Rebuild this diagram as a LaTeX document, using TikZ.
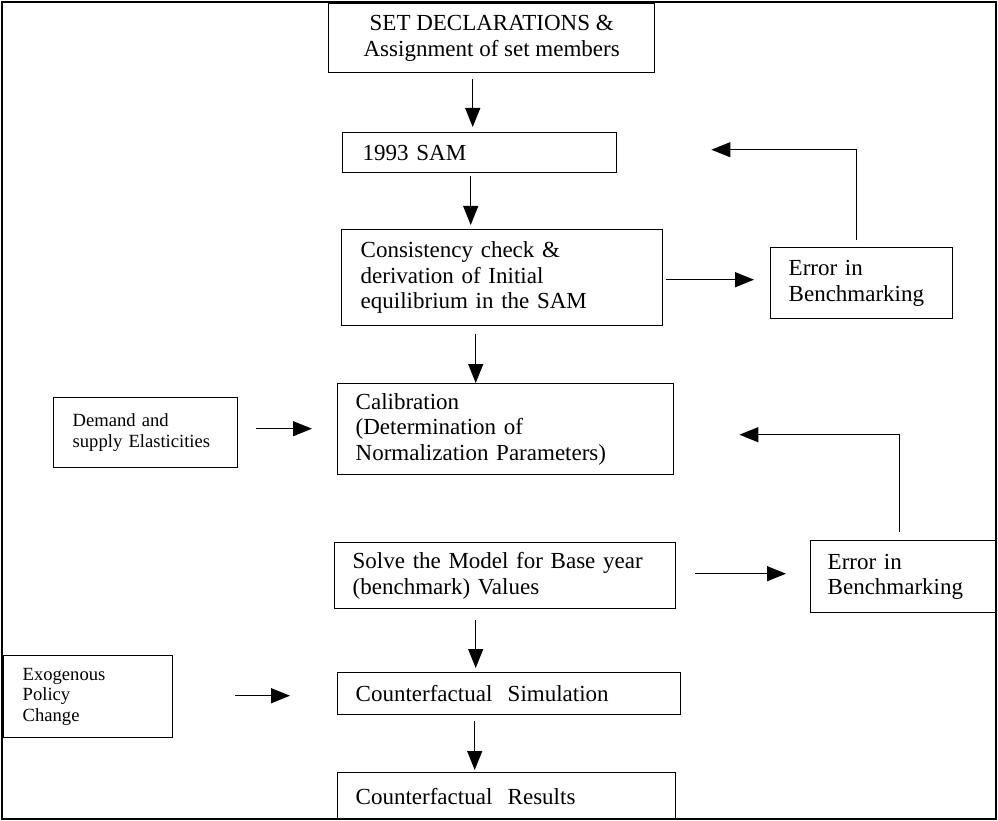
\documentclass[tikz,border=0pt]{standalone}
\usepackage{fontspec}
\setmainfont{Liberation Serif}
\usetikzlibrary{arrows.meta}
\tikzset{
  box/.style={draw, line width=1.4pt, anchor=north west, inner ysep=0pt,
    font=\fontsize{23}{25.5}\selectfont, align=left},
  smallbox/.style={box, font=\fontsize{18.6}{20.7}\selectfont},
  arr/.style={-{Triangle[length=19pt,width=15pt]}, line width=1.2pt},
  line/.style={line width=1.2pt}
}
\begin{document}
\begin{tikzpicture}[x=1pt,y=-1pt]
\useasboundingbox (0,0) rectangle (998,821);
\draw[line width=2pt] (2,2) rectangle (996,819);

\node[box, align=center, minimum width=326pt, minimum height=69pt, inner xsep=0pt] (set) at (328,3)
  {SET DECLARATIONS \&\\Assignment of set members};
\node[box, minimum width=274pt, minimum height=40pt, inner xsep=20pt, text width=234pt] (sam) at (342,132)
  {1993 SAM};
\node[box, minimum width=321pt, minimum height=96pt, inner xsep=19pt, text width=283pt] (cons) at (341,229)
  {Consistency check \&\\derivation of Initial\\equilibrium in the SAM};
\node[box, minimum width=182pt, minimum height=71pt, inner xsep=18pt, text width=146pt] (err1) at (770,247)
  {Error in\\Benchmarking};
\node[box, minimum width=336pt, minimum height=91pt, inner xsep=18pt, text width=300pt] (calib) at (337,383)
  {Calibration\\(Determination of\\Normalization Parameters)};
\node[smallbox, minimum width=184pt, minimum height=70pt, inner xsep=19pt, text width=146pt] (dem) at (53,397)
  {Demand and\\supply Elasticities};
\node[box, minimum width=341pt, minimum height=66pt, inner xsep=18pt, text width=305pt] (solve) at (334,542)
  {Solve the Model for Base year\\(benchmark) Values};
\node[box, minimum width=186pt, minimum height=72pt, inner xsep=17pt, text width=152pt] (err2) at (810,540)
  {Error in\\Benchmarking};
\node[box, minimum width=343pt, minimum height=42pt, inner xsep=18pt, text width=307pt] (sim) at (337,672)
  {Counterfactual\ \ Simulation};
\node[smallbox, minimum width=169pt, minimum height=82pt, inner xsep=19pt, text width=131pt] (exo) at (3,655)
  {Exogenous\\Policy\\Change};
\node[box, minimum width=338pt, minimum height=47pt, inner xsep=18pt, text width=302pt] (res) at (337,772)
  {Counterfactual\ \ Results};

\draw[arr, shorten <=6pt, shorten >=5pt] ([xshift=-19pt]set.south) -- ([xshift=-7pt]sam.north);
\draw[arr, shorten <=3pt, shorten >=4pt] ([xshift=-9pt]sam.south) -- ([xshift=-31.5pt]cons.north);
\draw[arr, shorten <=3pt, shorten >=16pt] ([yshift=-2pt]cons.east) -- ([yshift=3.5pt]err1.west);
\draw[arr, shorten <=8pt, shorten >=0pt] ([xshift=-26.5pt]cons.south) -- ([xshift=-30pt]calib.north);
\draw[arr, shorten <=18pt, shorten >=25pt] ([yshift=4pt]dem.east) -- ([yshift=0.5pt]calib.west);
\draw[arr, shorten <=7pt, shorten >=94pt] ([xshift=-5pt]err1.north) |- ([yshift=3pt]sam.east);
\draw[arr, shorten <=8pt, shorten >=65pt] ([xshift=-4pt]err2.north) |- ([yshift=-5.5pt]calib.east);
\draw[arr, shorten <=19pt, shorten >=24pt] ([yshift=2pt]solve.east) -- ([yshift=3pt]err2.west);
\draw[arr, shorten <=11pt, shorten >=4pt] ([xshift=-29.5pt]solve.south) -- ([xshift=-33.5pt]sim.north);
\draw[arr, shorten <=62pt, shorten >=47pt] ([yshift=1pt]exo.east) -- ([yshift=-2pt]sim.west);
\draw[arr, shorten <=6pt, shorten >=2pt] ([xshift=-34.5pt]sim.south) -- ([xshift=-32pt]res.north);
\end{tikzpicture}
\end{document}
